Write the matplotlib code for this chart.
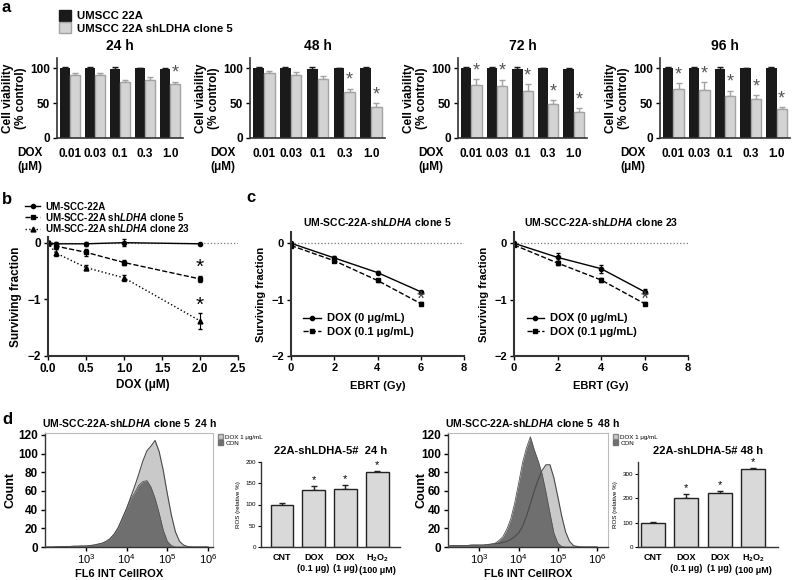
import numpy as np
import matplotlib
matplotlib.use("Agg")
import matplotlib.pyplot as plt
from matplotlib.patches import Patch
from matplotlib.lines import Line2D
from matplotlib.ticker import NullLocator

plt.rcParams["font.family"] = ["Liberation Sans", "DejaVu Sans"]
plt.rcParams["mathtext.fontset"] = "custom"
plt.rcParams["mathtext.rm"] = "Liberation Sans:bold"
plt.rcParams["mathtext.it"] = "Liberation Sans:italic:bold"
plt.rcParams["mathtext.bf"] = "Liberation Sans:bold"

# ===============================
# Data
# ===============================

# a: cell viability (% control)
doses = ["0.01", "0.03", "0.1", "0.3", "1.0"]
hours = ["24 h", "48 h", "72 h", "96 h"]
wt_24 = [100, 100, 99, 100, 99]
wt_48 = [100, 100, 99, 100, 100]
wt_72 = [100, 100, 99, 100, 99]
wt_96 = [100, 100, 99, 100, 100]
wt_err = [1.5, 1.5, 2.5, 0.5, 1.5]
sh_24 = [91, 90, 80, 83, 77]
sh_48 = [93, 91, 85, 66, 44]
sh_72 = [76, 75, 68, 49, 38]
sh_96 = [71, 69, 61, 56, 42]
sh_err_24 = [3, 4, 4, 5, 4]
sh_err_48 = [4, 4, 4, 5, 6]
sh_err_72 = [9, 9, 9, 5, 5]
sh_err_96 = [8, 11, 7, 6, 2]
star_24 = [0, 0, 0, 0, 1]
star_48 = [0, 0, 0, 1, 1]
star_72 = [1, 1, 1, 1, 1]
star_96 = [1, 1, 1, 1, 1]

# b: surviving fraction vs DOX
dox_b = [0, 0.1, 0.5, 1.0, 2.0]
sf_wt = [0, -0.02, -0.02, 0.0, -0.02]
sf_wt_err = [0.03, 0.03, 0.03, 0.06, 0.02]
sf_c5 = [0, -0.06, -0.17, -0.35, -0.64]
sf_c5_err = [0.03, 0.05, 0.06, 0.04, 0.06]
sf_c23 = [0, -0.18, -0.44, -0.62, -1.38]
sf_c23_err = [0.03, 0.06, 0.04, 0.05, 0.14]

# c: surviving fraction vs EBRT
ebrt = [0, 2, 4, 6]
c5_dox0 = [0, -0.26, -0.52, -0.86]
c5_dox0_err = [0.02, 0.03, 0.02, 0.02]
c5_dox01 = [-0.04, -0.31, -0.66, -1.07]
c5_dox01_err = [0.02, 0.02, 0.02, 0.03]
c23_dox0 = [0, -0.25, -0.45, -0.86]
c23_dox0_err = [0.03, 0.07, 0.07, 0.04]
c23_dox01 = [-0.03, -0.35, -0.65, -1.07]
c23_dox01_err = [0.02, 0.03, 0.03, 0.03]

# d: flow histograms (log10 FL6 intensity vs count)
fl_log = [2.0, 2.1, 2.2, 2.3, 2.4, 2.5, 2.6, 2.7, 2.8, 2.9,
          3.0, 3.1, 3.2, 3.3, 3.4, 3.5, 3.6, 3.7, 3.8, 3.9,
          4.0, 4.1, 4.2, 4.3, 4.4, 4.5, 4.6, 4.7, 4.8, 4.9,
          5.0, 5.1, 5.2, 5.3, 5.4, 5.5, 5.6, 5.7, 5.8, 5.9, 6.0]
con_24 = [0, 0, 0, 0.3, 0.5, 0.5, 0.5, 0.8, 0.8, 1,
          1, 1.5, 2, 3, 4, 6, 9, 14, 21, 31,
          41, 51, 58, 66, 70, 71, 64, 52, 36, 18,
          6, 1.5, 0, 0, 0, 0, 0, 0, 0, 0, 0]
dox_24 = [0, 0, 0, 0.3, 0.5, 0.5, 0.5, 0.8, 0.8, 1,
          1, 1.5, 2, 3, 4, 6, 9, 14, 21, 31,
          41, 53, 65, 78, 92, 103, 108, 114, 102, 82,
          57, 34, 16, 6, 2, 0.5, 0, 0, 0, 0, 0]
con_48 = [0, 0, 1, 1.5, 1.5, 1.5, 1.5, 1.5, 2, 2,
          2, 2, 2.5, 3, 4, 7, 11, 19, 30, 47,
          68, 90, 106, 118, 104, 92, 78, 58, 36, 15,
          4, 0.5, 0, 0, 0, 0, 0, 0, 0, 0, 0]
dox_48 = [0, 0, 1, 1.5, 1.5, 1.5, 1.5, 1.5, 2, 2,
          2, 2, 2.5, 3, 3.5, 4, 5, 6, 8, 11,
          15, 22, 33, 46, 60, 72, 82, 88, 88, 74,
          54, 33, 16, 6, 1.5, 0.5, 0, 0, 0, 0, 0]

# d: ROS bars
ros_cats = ["CNT", "DOX\n(0.1 μg)", "DOX\n(1 μg)", "H$_2$O$_2$\n(100 μM)"]
ros_24 = [98, 135, 137, 177]
ros_24_err = [5, 8, 8, 2]
ros_48 = [98, 203, 224, 322]
ros_48_err = [6, 15, 8, 3]
ros_star = [0, 1, 1, 1]

# ===============================
# Figure
# ===============================
W, H = 793, 580
fig = plt.figure(figsize=(W / 100, H / 100), dpi=100)


def box(x0, y0, x1, y1):
    return fig.add_axes([x0 / W, 1 - y1 / H, (x1 - x0) / W, (y1 - y0) / H])


def style(ax, lw=1.2):
    for s in ["top", "right"]:
        ax.spines[s].set_visible(False)
    for s in ["left", "bottom"]:
        ax.spines[s].set_linewidth(lw)
        ax.spines[s].set_color("#333333")


BLACK = "#1a1a1a"
LGREY = "#d3d3d3"
EGREY = "#a3a3a3"

# panel letters
for lab, (px, py) in zip("abcd", [(2, 8), (2, 199), (246, 197), (2, 420)]):
    fig.text(px / W, 1 - py / H, lab, fontsize=12, fontweight="bold",
             ha="left", va="center")

# ---------- a ----------
fig.legend(handles=[Patch(color=BLACK), Patch(facecolor=LGREY, edgecolor=EGREY)],
           labels=["UMSCC 22A", "UMSCC 22A shLDHA clone 5"],
           loc="upper left", bbox_to_anchor=(53 / W, 1 - 4 / H), frameon=False,
           prop={"size": 8.2, "weight": "bold"}, handlelength=1.1,
           handleheight=1.1, labelspacing=0.1, handletextpad=0.5,
           borderpad=0)

a_boxes = [(57, 58, 183, 138), (250, 58, 385, 138),
           (458, 58, 587, 138), (660, 58, 790, 138)]
a_wt = [wt_24, wt_48, wt_72, wt_96]
a_sh = [sh_24, sh_48, sh_72, sh_96]
a_err = [sh_err_24, sh_err_48, sh_err_72, sh_err_96]
a_star = [star_24, star_48, star_72, star_96]
x = np.arange(len(doses))
for k in range(4):
    ax = box(*a_boxes[k])
    style(ax)
    ax.bar(x - 0.2, a_wt[k], width=0.4, color=BLACK, zorder=2)
    ax.errorbar(x - 0.2, a_wt[k], yerr=[[0] * 5, wt_err], fmt="none",
                ecolor=BLACK, elinewidth=1, capsize=2, zorder=3)
    ax.bar(x + 0.2, a_sh[k], width=0.4, color=LGREY, edgecolor=EGREY,
           linewidth=1, zorder=2)
    ax.errorbar(x + 0.2, a_sh[k], yerr=[[0] * 5, a_err[k]], fmt="none",
                ecolor=EGREY, elinewidth=1, capsize=2, zorder=1)
    for i in range(5):
        if a_star[k][i]:
            ax.text(x[i] + 0.2, a_sh[k][i] + a_err[k][i] + 12, "*",
                    ha="center", va="center", fontsize=13, color="#555555")
    ax.set_xlim(-0.52, 4.52)
    ax.set_ylim(0, 115)
    ax.set_yticks([0, 50, 100])
    ax.set_xticks(x)
    ax.set_xticklabels(doses)
    ax.tick_params(axis="x", length=0, pad=7, labelsize=8.5)
    ax.tick_params(axis="y", length=3, width=1, pad=2, labelsize=8.5)
    for t in ax.get_xticklabels() + ax.get_yticklabels():
        t.set_fontweight("bold")
    ax.set_title(hours[k], fontsize=10, fontweight="bold", pad=6)
    ax.set_ylabel("Cell viability\n(% control)", fontsize=8.5,
                  fontweight="bold", labelpad=2)
    ax.annotate("DOX", xy=(0, 0), xycoords="axes fraction",
                xytext=(-27, -15), textcoords="offset pixels",
                ha="center", va="center", fontsize=8.5, fontweight="bold")
    ax.annotate("(μM)", xy=(0, 0), xycoords="axes fraction",
                xytext=(-27, -29), textcoords="offset pixels",
                ha="center", va="center", fontsize=8.5, fontweight="bold")

# ---------- b ----------
ax = box(48, 237, 238, 356)
style(ax, 1.5)
ax.axhline(0, color="#777777", ls=":", lw=0.9, zorder=0)
ax.errorbar(dox_b, sf_wt, yerr=sf_wt_err, color="black", lw=1,
            marker="o", ms=3, ls="-", capsize=1.5, elinewidth=0.8)
ax.errorbar(dox_b, sf_c5, yerr=sf_c5_err, color="black", lw=1,
            marker="s", ms=3.5, ls="--", capsize=1.5, elinewidth=0.8)
ax.errorbar(dox_b, sf_c23, yerr=sf_c23_err, color="black", lw=1,
            marker="^", ms=3.5, ls=":", capsize=1.5, elinewidth=0.8)
ax.text(2.0, sf_c5[-1] + 0.2, "*", ha="center", va="center", fontsize=15)
ax.text(2.0, sf_c23[-1] + 0.27, "*", ha="center", va="center", fontsize=15)
ax.set_xlim(0, 2.5)
ax.set_ylim(-2, 0.1)
ax.set_xticks([0, 0.5, 1.0, 1.5, 2.0, 2.5])
ax.set_xticklabels(["0.0", "0.5", "1.0", "1.5", "2.0", "2.5"])
ax.set_yticks([-2, -1, 0])
ax.tick_params(length=3, width=1, labelsize=8.5, pad=2)
for t in ax.get_xticklabels() + ax.get_yticklabels():
    t.set_fontweight("bold")
ax.set_xlabel("DOX (μM)", fontsize=8.5, fontweight="bold", labelpad=3)
ax.set_ylabel("Surviving fraction", fontsize=8.5, fontweight="bold",
              labelpad=4)
b_handles = [Line2D([], [], color="black", lw=1, ls="-", marker="o", ms=3),
             Line2D([], [], color="black", lw=1, ls="--", marker="s", ms=3.5),
             Line2D([], [], color="black", lw=1, ls=":", marker="^", ms=3.5)]
fig.legend(handles=b_handles,
           labels=["UM-SCC-22A", r"UM-SCC-22A sh$\it{LDHA}$ clone 5",
                   r"UM-SCC-22A sh$\it{LDHA}$ clone 23"],
           loc="upper left", bbox_to_anchor=(20 / W, 1 - 197 / H),
           frameon=False, prop={"size": 7, "weight": "bold"},
           handlelength=1.6, labelspacing=-0.1, handletextpad=0.5,
           borderpad=0)

# ---------- c ----------
c_boxes = [(291, 232, 464, 356), (514, 232, 688, 356)]
c_titles = [r"UM-SCC-22A-sh$\it{LDHA}$ clone 5",
            r"UM-SCC-22A-sh$\it{LDHA}$ clone 23"]
c_d0 = [c5_dox0, c23_dox0]
c_d0e = [c5_dox0_err, c23_dox0_err]
c_d1 = [c5_dox01, c23_dox01]
c_d1e = [c5_dox01_err, c23_dox01_err]
c_handles = [Line2D([], [], color="black", lw=1, ls="-", marker="o", ms=3),
             Line2D([], [], color="black", lw=1, ls="--", marker="s", ms=3.5)]
for k in range(2):
    ax = box(*c_boxes[k])
    style(ax, 1.5)
    ax.axhline(0, color="#777777", ls=":", lw=0.9, zorder=0)
    ax.errorbar(ebrt, c_d0[k], yerr=c_d0e[k], color="black", lw=1,
                marker="o", ms=3, ls="-", capsize=1.5, elinewidth=0.8)
    ax.errorbar(ebrt, c_d1[k], yerr=c_d1e[k], color="black", lw=1,
                marker="s", ms=3.5, ls="--", capsize=1.5, elinewidth=0.8)
    ax.text(6, -1.0, "*", ha="center", va="center", fontsize=15,
            color="#444444")
    ax.set_xlim(0, 8)
    ax.set_ylim(-2, 0.2)
    ax.set_xticks([0, 2, 4, 6, 8])
    ax.set_yticks([-2, -1, 0])
    ax.tick_params(length=3, width=1, labelsize=8, pad=2)
    for t in ax.get_xticklabels() + ax.get_yticklabels():
        t.set_fontweight("bold")
    ax.set_xlabel("EBRT (Gy)", fontsize=8, fontweight="bold", labelpad=6)
    ax.set_ylabel("Surviving fraction", fontsize=8, fontweight="bold",
                  labelpad=4)
    ax.set_title(c_titles[k], fontsize=7.5, fontweight="bold", pad=4)
    ax.legend(c_handles, ["DOX (0 μg/mL)", "DOX (0.1 μg/mL)"],
              loc="lower left", bbox_to_anchor=(0.04, 0.11), frameon=False,
              prop={"size": 8, "weight": "bold"}, handlelength=1.6,
              labelspacing=0.3, handletextpad=0.5, borderpad=0)

# ---------- d: histograms ----------
h_boxes = [(45, 433, 213, 547), (448, 433, 608, 547)]
h_xlim = [(10 ** 2.0, 10 ** 6.12), (10 ** 2.2, 10 ** 6.28)]
h_con = [con_24, con_48]
h_dox = [dox_24, dox_48]
h_titles = [r"UM-SCC-22A-sh$\it{LDHA}$ clone 5  24 h",
            r"UM-SCC-22A-sh$\it{LDHA}$ clone 5  48 h"]
h_title_x = [0.5, 0.53]
h_xlab_x = [0.44, 0.5]
h_ylab_x = [-0.17, -0.13]
fl = 10 ** np.array(fl_log)
for k in range(2):
    ax = box(*h_boxes[k])
    ax.set_xscale("log")
    ax.fill_between(fl, h_dox[k], color="#c9c9c9", lw=0, zorder=1)
    ax.fill_between(fl, h_con[k], color="#6f6f6f", lw=0, zorder=2)
    ax.plot(fl, h_dox[k], color="#4a4a4a", lw=0.8, zorder=3)
    ax.plot(fl, h_con[k], color="#555555", lw=0.6, zorder=3)
    ax.set_xlim(*h_xlim[k])
    ax.set_ylim(0, 122)
    ax.set_xticks([1e3, 1e4, 1e5, 1e6])
    ax.xaxis.set_minor_locator(NullLocator())
    ax.set_yticks([0, 20, 40, 60, 80, 100, 120])
    for s in ["top", "right"]:
        ax.spines[s].set_color("#bbbbbb")
        ax.spines[s].set_linewidth(0.8)
    for s in ["left", "bottom"]:
        ax.spines[s].set_color("#333333")
        ax.spines[s].set_linewidth(1)
    ax.tick_params(axis="y", length=3, width=1, labelsize=8.5, pad=2)
    ax.tick_params(axis="x", length=3, width=1, labelsize=8, pad=1)
    for t in ax.get_yticklabels():
        t.set_fontweight("bold")
    ax.set_xlabel("FL6 INT CellROX", fontsize=8, fontweight="bold")
    ax.xaxis.set_label_coords(h_xlab_x[k], -0.19)
    ax.set_ylabel("Count", fontsize=9, fontweight="bold")
    ax.yaxis.set_label_coords(h_ylab_x[k], 0.5)
    ax.set_title(h_titles[k], fontsize=7.5, fontweight="bold", pad=4,
                 x=h_title_x[k])
    ax.legend(handles=[Patch(facecolor="#c9c9c9", edgecolor="#888888"),
                       Patch(color="#6f6f6f")],
              labels=["DOX 1 μg/mL", "CON"], loc="upper left",
              bbox_to_anchor=(1.01, 1.02), frameon=False, fontsize=4.5,
              handlelength=0.9, handleheight=0.9, labelspacing=0.05,
              handletextpad=0.3, borderpad=0)

# ---------- d: ROS bars ----------
r_boxes = [(261, 462, 400, 547), (638, 462, 778, 547)]
r_vals = [ros_24, ros_48]
r_errs = [ros_24_err, ros_48_err]
r_ylim = [(0, 200), (0, 350)]
r_yticks = [[0, 50, 100, 150, 200], [0, 100, 200, 300]]
r_titles = ["22A-shLDHA-5#  24 h", "22A-shLDHA-5# 48 h"]
r_xlim = [(-0.66, 3.72), (-0.45, 3.75)]
xr = np.arange(len(ros_cats))
for k in range(2):
    ax = box(*r_boxes[k])
    style(ax, 1)
    ax.bar(xr, r_vals[k], width=0.72, color="#d9d9d9", edgecolor="#222222",
           linewidth=1, zorder=2)
    ax.errorbar(xr, r_vals[k], yerr=[[0] * 4, r_errs[k]], fmt="none",
                ecolor="#222222", elinewidth=1, capsize=2.5, zorder=1)
    span = r_ylim[k][1]
    for i in range(4):
        if ros_star[i]:
            ax.text(xr[i], r_vals[k][i] + r_errs[k][i] + 0.07 * span, "*",
                    ha="center", va="center", fontsize=8)
    ax.set_xlim(*r_xlim[k])
    ax.set_ylim(*r_ylim[k])
    ax.set_yticks(r_yticks[k])
    ax.set_xticks(xr)
    ax.set_xticklabels(ros_cats, fontsize=6.5, fontweight="bold",
                       linespacing=1.3)
    ax.tick_params(axis="x", length=0, pad=4)
    ax.tick_params(axis="y", length=2, width=0.8, labelsize=4.5, pad=1.5)
    ax.set_ylabel("ROS (relative %)", fontsize=4.5, labelpad=3)
    ax.set_title(r_titles[k], fontsize=8, fontweight="bold", pad=6)

fig.savefig("out.png", dpi=100)
